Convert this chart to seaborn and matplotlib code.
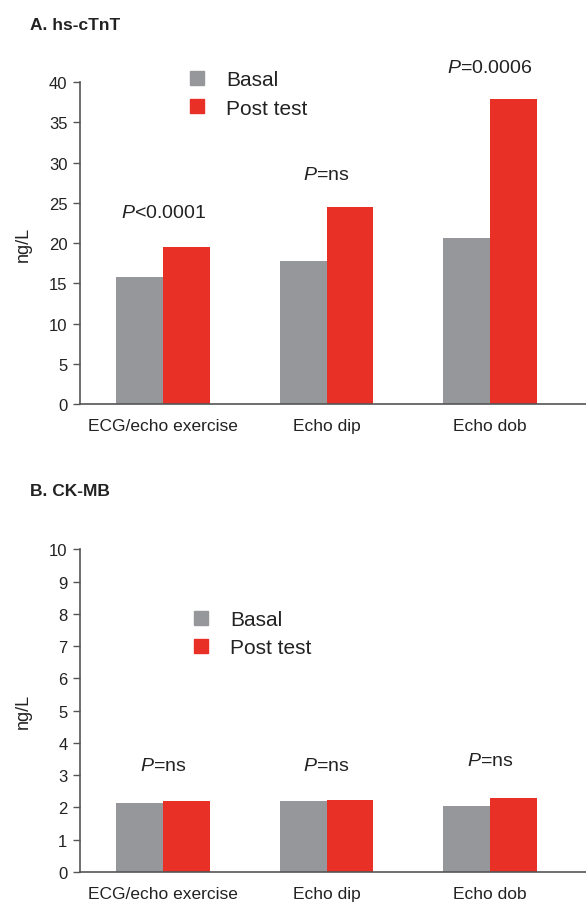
import matplotlib

matplotlib.use("Agg")

import matplotlib.pyplot as plt
import pandas as pd
import seaborn as sns
from matplotlib.lines import Line2D

categories = ["ECG/echo exercise", "Echo dip", "Echo dob"]
series = ["Basal", "Post test"]
tnt_basal = [15.8, 17.8, 20.6]
tnt_post = [19.5, 24.5, 37.9]
ckmb_basal = [2.15, 2.2, 2.05]
ckmb_post = [2.2, 2.23, 2.3]
tnt_pvals = ["$P$<0.0001", "$P$=ns", "$P$=0.0006"]
tnt_pval_y = [23.8, 28.5, 41.8]
ckmb_pvals = ["$P$=ns", "$P$=ns", "$P$=ns"]
ckmb_pval_y = [3.3, 3.3, 3.47]

colors = {"Basal": "#96979b", "Post test": "#e93027"}

sns.set_theme(style="white")
plt.rcParams["font.family"] = ["Liberation Sans", "DejaVu Sans"]
plt.rcParams["mathtext.fontset"] = "custom"
plt.rcParams["mathtext.it"] = "Liberation Sans:italic"
plt.rcParams["mathtext.rm"] = "Liberation Sans"


def long_frame(basal, post):
    return pd.DataFrame(
        {
            "test": categories * 2,
            "group": ["Basal"] * 3 + ["Post test"] * 3,
            "value": basal + post,
        }
    )


def draw_panel(ax, df, ymax, step, pvals, pval_y, legend_anchor):
    sns.barplot(
        data=df, x="test", y="value", hue="group", palette=colors,
        width=0.57, gap=0, saturation=1, linewidth=0, ax=ax, legend=False,
    )
    ax.set_xlim(-0.508, 2.587)
    ax.set_ylim(0, ymax)
    ax.set_yticks(range(0, ymax + 1, step))
    ax.set_xlabel("")
    ax.set_ylabel("ng/L", fontsize=13, color="#222222")
    ax.yaxis.set_label_coords(-0.095, 0.5)
    for side in ["top", "right"]:
        ax.spines[side].set_visible(False)
    for side in ["left", "bottom"]:
        ax.spines[side].set_color("#555555")
        ax.spines[side].set_linewidth(1.2)
    ax.tick_params(axis="y", left=True, length=5, width=1, color="#555555",
                   labelsize=12, labelcolor="#222222", pad=4)
    ax.tick_params(axis="x", bottom=False, labelsize=12.5, labelcolor="#222222", pad=4)
    for i, (txt, yy) in enumerate(zip(pvals, pval_y)):
        ax.text(i, yy, txt, ha="center", va="center", fontsize=14,
                color="#222222", clip_on=False)
    handles = [
        Line2D([], [], marker="s", linestyle="none", markersize=10,
               markerfacecolor=colors[s], markeredgecolor=colors[s])
        for s in series
    ]
    ax.legend(handles, series, loc="upper left", bbox_to_anchor=legend_anchor,
              bbox_transform=ax.figure.transFigure, frameon=False,
              fontsize=15, handlelength=1.0, handletextpad=0.9, labelspacing=0.45,
              borderaxespad=0, borderpad=0, labelcolor="#222222")


fig = plt.figure(figsize=(5.86, 9.04), dpi=100)
ax_top = fig.add_axes([0.1365, 0.552, 0.8635, 0.356])
ax_bot = fig.add_axes([0.1365, 0.0343, 0.8635, 0.357])

draw_panel(ax_top, long_frame(tnt_basal, tnt_post), 40, 5,
           tnt_pvals, tnt_pval_y, (0.318, 0.921))
draw_panel(ax_bot, long_frame(ckmb_basal, ckmb_post), 10, 1,
           ckmb_pvals, ckmb_pval_y, (0.325, 0.324))

fig.text(0.051, 0.972, "A. hs-cTnT", fontsize=12.5, fontweight="bold",
         color="#222222", va="center")
fig.text(0.051, 0.456, "B. CK-MB", fontsize=12.5, fontweight="bold",
         color="#222222", va="center")

fig.savefig("out.png", dpi=100)
